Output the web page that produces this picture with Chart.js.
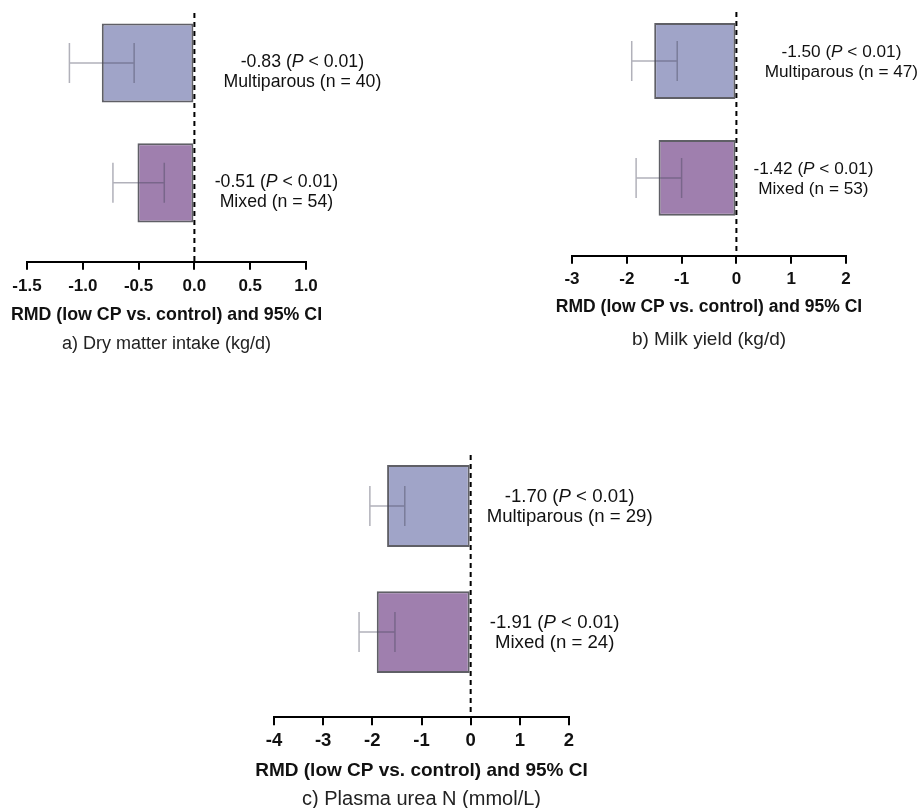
<!DOCTYPE html>
<html>
<head>
<meta charset="utf-8">
<script src="https://cdn.jsdelivr.net/npm/chart.js@4.4.1/dist/chart.umd.min.js"></script>
<style>
  body { margin: 0; background: #fff; }
  #wrap { position: relative; width: 919px; height: 808px; overflow: hidden; }
  canvas { position: absolute; }
</style>
</head>
<body>
<div id="wrap">
  <canvas id="cA" width="460" height="360" style="left:0px;top:0px"></canvas>
  <canvas id="cB" width="419" height="360" style="left:500px;top:0px"></canvas>
  <canvas id="cC" width="460" height="378" style="left:230px;top:440px"></canvas>
</div>
<script>
// groups (same for every panel)
const groups = ['Multiparous', 'Mixed'];

// a) Dry matter intake
const dmiRmd  = [-0.83, -0.51];
const dmiLow  = [-1.12, -0.73];
const dmiHigh = [-0.54, -0.27];
const dmiN    = [40, 54];
const dmiTicks = ['-1.5', '-1.0', '-0.5', '0.0', '0.5', '1.0'];

// b) Milk yield
const milkRmd  = [-1.50, -1.42];
const milkLow  = [-1.91, -1.83];
const milkHigh = [-1.08, -1.00];
const milkN    = [47, 53];
const milkTicks = ['-3', '-2', '-1', '0', '1', '2'];

// c) Plasma urea N
const punRmd  = [-1.70, -1.91];
const punLow  = [-2.05, -2.27];
const punHigh = [-1.34, -1.54];
const punN    = [29, 24];
const punTicks = ['-4', '-3', '-2', '-1', '0', '1', '2'];

const pText = '< 0.01';
const axisTitle = 'RMD (low CP vs. control) and 95% CI';

const FONT = "'Liberation Sans', Arial, sans-serif";
const barColors = ['#a0a4c8', '#9f7fae'];

function makeChart(id, p) {
  const forest = {
    id: 'forest',
    afterDatasetsDraw(chart) {
      const { ctx, chartArea, scales: { x, y } } = chart;
      const x0 = x.getPixelForValue(0);
      ctx.save();
      // error bars
      ctx.strokeStyle = 'rgba(70,70,90,0.42)';
      ctx.lineWidth = 1.5;
      p.low.forEach((lo, i) => {
        const yy = y.getPixelForValue(i);
        const a = x.getPixelForValue(lo), b = x.getPixelForValue(p.high[i]);
        ctx.beginPath();
        ctx.moveTo(a, yy); ctx.lineTo(b, yy);
        ctx.moveTo(a, yy - 20); ctx.lineTo(a, yy + 20);
        ctx.moveTo(b, yy - 20); ctx.lineTo(b, yy + 20);
        ctx.stroke();
      });
      // zero line
      ctx.strokeStyle = '#000';
      ctx.lineWidth = 2;
      ctx.setLineDash([5, 4]);
      ctx.beginPath();
      ctx.moveTo(x0, chartArea.top);
      ctx.lineTo(x0, chartArea.bottom);
      ctx.stroke();
      ctx.setLineDash([]);
      // labels
      ctx.fillStyle = '#111';
      ctx.textBaseline = 'middle';
      ctx.textAlign = 'left';
      const f = p.noteSize + 'px ' + FONT;
      p.rmd.forEach((v, i) => {
        const yy = y.getPixelForValue(i);
        const cx = x0 + p.dx[i];
        const parts = [
          [v.toFixed(2) + ' (', f],
          ['P', 'italic ' + f],
          [' ' + pText + ')', f]
        ];
        let w = 0;
        parts.forEach(s => { ctx.font = s[1]; w += ctx.measureText(s[0]).width; });
        let xx = cx - w / 2;
        parts.forEach(s => {
          ctx.font = s[1];
          ctx.fillText(s[0], xx, yy + p.dy[0]);
          xx += ctx.measureText(s[0]).width;
        });
        ctx.font = f;
        ctx.textAlign = 'center';
        ctx.fillText(groups[i] + ' (n = ' + p.n[i] + ')', cx, yy + p.dy[1]);
        ctx.textAlign = 'left';
      });
      // axis title: same spot as the scale title, but not squeezed to the axis width
      const t = x.options.title;
      const lh = t.font.size * 1.2;
      ctx.font = 'bold ' + t.font.size + 'px ' + FONT;
      ctx.textAlign = 'center';
      ctx.fillStyle = '#111';
      ctx.fillText(t.text, (x.left + x.right) / 2, x.bottom - t.padding.bottom - lh / 2);
      ctx.restore();
    }
  };

  const tickVals = p.ticks.map(Number);

  return new Chart(document.getElementById(id), {
    type: 'bar',
    data: {
      datasets: [{
        data: p.rmd.map((v, i) => ({ x: v, y: i })),
        backgroundColor: barColors,
        borderColor: '#5f5f66',
        borderWidth: 2,
        borderSkipped: false,
        categoryPercentage: 1,
        barPercentage: p.barPct
      }]
    },
    options: {
      indexAxis: 'y',
      responsive: false,
      animation: false,
      layout: { padding: p.pad },
      scales: {
        y: {
          type: 'linear',
          reverse: true,
          offset: false,
          grid: { offset: false },
          min: p.yMin,
          max: p.yMax,
          afterBuildTicks(scale) {
            scale.ticks = groups.map((g, i) => ({ value: i }));
          },
          display: false
        },
        x: {
          type: 'linear',
          min: tickVals[0],
          max: tickVals[tickVals.length - 1],
          afterBuildTicks(scale) {
            scale.ticks = tickVals.map(v => ({ value: v }));
          },
          grid: {
            drawOnChartArea: false,
            drawTicks: true,
            tickLength: 8,
            color: '#000',
            lineWidth: 2
          },
          border: { display: true, color: '#000', width: 2 },
          ticks: {
            padding: p.tickPad,
            color: '#111',
            font: { family: FONT, size: p.tickSize, weight: 'bold' },
            callback: (val, idx) => p.ticks[idx]
          },
          title: {
            display: true,
            text: axisTitle,
            color: 'rgba(0,0,0,0)',
            font: { family: FONT, size: p.titleSize, weight: 'bold' },
            padding: { top: p.titlePad, bottom: 0 }
          }
        }
      },
      plugins: {
        legend: { display: false },
        tooltip: { enabled: false },
        title: {
          display: true,
          position: 'bottom',
          text: p.caption,
          color: '#222',
          font: { family: FONT, size: p.capSize, weight: 'normal' },
          padding: p.capPad
        }
      }
    },
    plugins: [forest]
  });
}

makeChart('cA', {
  rmd: dmiRmd, low: dmiLow, high: dmiHigh, n: dmiN, ticks: dmiTicks,
  caption: 'a) Dry matter intake (kg/d)',
  pad: { left: 27, right: 154, top: 13, bottom: 0.5 },
  yMin: -0.417, yMax: 1.658, barPct: 0.66,
  tickSize: 17, titleSize: 17.8, capSize: 18, noteSize: 17.7,
  tickPad: 6, titlePad: 2.7, capPad: { top: 6.7, bottom: 5 },
  dx: [108, 82], dy: [-1, 19]
});

makeChart('cB', {
  rmd: milkRmd, low: milkLow, high: milkHigh, n: milkN, ticks: milkTicks,
  caption: 'b) Milk yield (kg/d)',
  pad: { left: 72, right: 73, top: 12, bottom: 4.6 },
  yMin: -0.42, yMax: 1.667, barPct: 0.65,
  tickSize: 17, titleSize: 17.5, capSize: 19, noteSize: 17.2,
  tickPad: 5, titlePad: 2.7, capPad: { top: 10.7, bottom: 4 },
  dx: [105, 77], dy: [-9, 11]
});

makeChart('cC', {
  rmd: punRmd, low: punLow, high: punHigh, n: punN, ticks: punTicks,
  caption: 'c) Plasma urea N (mmol/L)',
  pad: { left: 44, right: 121, top: 15, bottom: 6.8 },
  yMin: -0.405, yMax: 1.675, barPct: 0.65,
  tickSize: 18.5, titleSize: 19, capSize: 20, noteSize: 18.6,
  tickPad: 5, titlePad: 2.2, capPad: { top: 4.8, bottom: 0 },
  dx: [99, 84], dy: [-9, 11]
});
</script>
</body>
</html>
